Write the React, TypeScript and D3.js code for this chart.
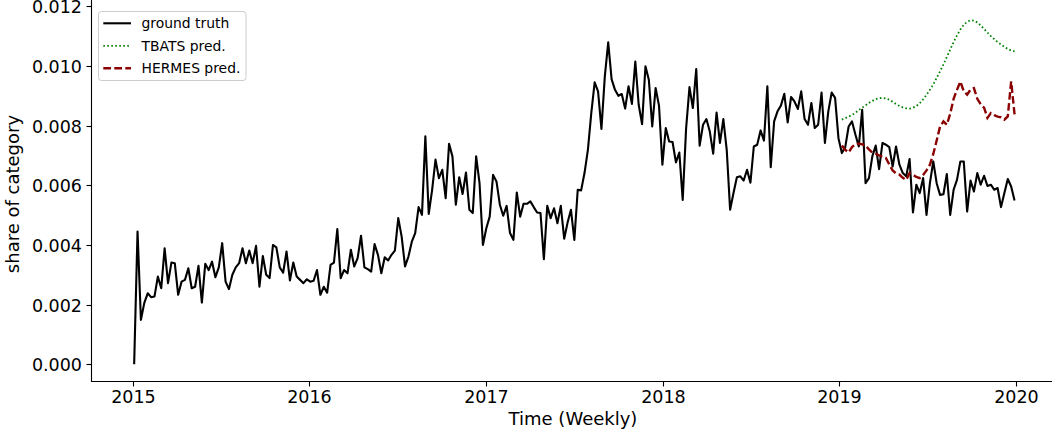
import { useEffect, useRef } from 'react';
import * as d3 from 'd3';

// weekly share of category, first week starting 2015-01-04
const groundTruth = [
  0.0, 0.00445, 0.00149, 0.00206, 0.00238, 0.00225, 0.00227, 0.00294, 0.00255, 0.00389,
  0.00272, 0.00341, 0.00339, 0.00233, 0.00277, 0.00283, 0.00322, 0.00255, 0.0026, 0.0033,
  0.00207, 0.00337, 0.00316, 0.00344, 0.00292, 0.00325, 0.00406, 0.00277, 0.00252, 0.003,
  0.00325, 0.00339, 0.00389, 0.00339, 0.00381, 0.00339, 0.00397, 0.0026, 0.00363, 0.003,
  0.00289, 0.004, 0.00392, 0.00325, 0.00307, 0.00378, 0.00281, 0.00341, 0.00294, 0.00283,
  0.00272, 0.00285, 0.00277, 0.0028, 0.00316, 0.00233, 0.0026, 0.0024, 0.00333, 0.00341,
  0.00453, 0.00289, 0.00316, 0.00305, 0.00384, 0.00328, 0.00356, 0.00431, 0.00325, 0.00319,
  0.00311, 0.00403, 0.00367, 0.00305, 0.00359, 0.00348, 0.00367, 0.00381, 0.0049, 0.00428,
  0.00328, 0.00361, 0.00411, 0.0044, 0.00527, 0.00501, 0.00764, 0.00504, 0.00585, 0.00686,
  0.00624, 0.00652, 0.00557, 0.00739, 0.00697, 0.00535, 0.00627, 0.00571, 0.00643, 0.00518,
  0.00507, 0.00697, 0.00607, 0.004, 0.00456, 0.00495, 0.00635, 0.00613, 0.00535, 0.00498,
  0.00531, 0.0044, 0.00417, 0.00576, 0.00495, 0.00538, 0.00538, 0.00546, 0.00527, 0.00509,
  0.00507, 0.00352, 0.00531, 0.0049, 0.00523, 0.00473, 0.00531, 0.00421, 0.00475, 0.00518,
  0.00417, 0.00585, 0.00583, 0.00641, 0.00719, 0.00842, 0.00945, 0.00915, 0.00789, 0.00965,
  0.01079, 0.00956, 0.0092, 0.009, 0.00906, 0.00857, 0.00932, 0.00873, 0.01015, 0.0087,
  0.00805, 0.00999, 0.00954, 0.00797, 0.00926, 0.00867, 0.00669, 0.00792, 0.00747, 0.00745,
  0.00677, 0.0071, 0.00551, 0.0079, 0.00929, 0.00859, 0.0099, 0.00733, 0.00803, 0.00822,
  0.0078, 0.00706, 0.00844, 0.00742, 0.00822, 0.00719, 0.00518, 0.00574, 0.00627, 0.0063,
  0.00616, 0.00652, 0.00609, 0.0073, 0.00736, 0.00784, 0.0075, 0.00932, 0.00661, 0.00814,
  0.00848, 0.00867, 0.00907, 0.00811, 0.00896, 0.00881, 0.00856, 0.00915, 0.00822, 0.00803,
  0.00876, 0.00792, 0.00803, 0.00911, 0.00742, 0.00848, 0.00911, 0.00893, 0.00758, 0.00708,
  0.00728, 0.00797, 0.00814, 0.0077, 0.0073, 0.00853, 0.00607, 0.00624, 0.00697, 0.00733,
  0.00654, 0.00742, 0.00736, 0.00728, 0.00663, 0.0073, 0.00669, 0.00641, 0.0063, 0.00688,
  0.00509, 0.00602, 0.00574, 0.00624, 0.00501, 0.00607, 0.0068, 0.00607, 0.00568, 0.0057,
  0.00638, 0.00501, 0.00585, 0.00618, 0.0068, 0.0068, 0.00512, 0.00616, 0.00579, 0.00641,
  0.00602, 0.00632, 0.00598, 0.00602, 0.00585, 0.00591, 0.00527, 0.00574, 0.00621, 0.00596,
  0.00549,
];

// forecasts cover the last 52 weeks (2019)
const tbatsPred = [
  0.0082, 0.00825, 0.0083, 0.00836, 0.00843, 0.00852, 0.0086, 0.00868, 0.00876, 0.00883,
  0.00889, 0.00892, 0.00893, 0.00891, 0.00887, 0.0088, 0.00872, 0.00866, 0.00861, 0.00858,
  0.00857, 0.0086, 0.00866, 0.00875, 0.00888, 0.00903, 0.0092, 0.00938, 0.0096, 0.00982,
  0.01005, 0.0103, 0.01055, 0.0108, 0.01102, 0.01122, 0.01138, 0.01148, 0.01153, 0.01152,
  0.01146, 0.01136, 0.01124, 0.01112, 0.011, 0.0109, 0.0108, 0.01072, 0.01064, 0.01057,
  0.01052, 0.01049,
];

const hermesPred = [
  0.00733, 0.00719, 0.0071, 0.00728, 0.00738, 0.0074, 0.00737, 0.00734, 0.0072, 0.0071,
  0.00706, 0.007, 0.00696, 0.00692, 0.0067, 0.0065, 0.0064, 0.00636, 0.00625, 0.00618,
  0.00641, 0.00635, 0.00628, 0.00624, 0.00635, 0.0065, 0.00669, 0.00705, 0.0075, 0.00797,
  0.00814, 0.00803, 0.0084, 0.0089, 0.0092, 0.00948, 0.00915, 0.00904, 0.00921, 0.00926,
  0.0089, 0.00872, 0.0086, 0.00826, 0.00842, 0.00835, 0.0083, 0.00828, 0.0082, 0.00831,
  0.00948, 0.00838,
];

const startDate = Date.UTC(2015, 0, 4);
const yearTicks = [2015, 2016, 2017, 2018, 2019, 2020];
const valueTicks = [0, 0.002, 0.004, 0.006, 0.008, 0.01, 0.012];

const legendItems = [
  { label: 'ground truth', color: '#000000', width: 2.1, dash: null },
  { label: 'TBATS pred.', color: 'green', width: 1.8, dash: '1.6,2.4' },
  { label: 'HERMES pred.', color: 'darkred', width: 2.4, dash: '7.7,3.3' },
];

export default function App() {
  const svgRef = useRef<SVGSVGElement>(null);

  useEffect(() => {
    if (!svgRef.current) return;
    const svg = d3.select(svgRef.current);
    svg.selectAll('*').remove();

    const font = '"DejaVu Sans", sans-serif';
    const left = 91.5;
    const bottom = 381.5;

    const x = d3
      .scaleUtc()
      .domain([new Date(Date.UTC(2015, 0, 1)), new Date(Date.UTC(2020, 0, 1))])
      .range([132.7, 1016]);
    const y = d3.scaleLinear().domain([0, 0.012]).range([364.3, 6.3]);

    const weekDate = (i: number) => new Date(startDate + i * 7 * 86400000);
    const gt = groundTruth.map((v, i) => ({ d: weekDate(i), v }));
    const offset = groundTruth.length - tbatsPred.length;
    const tb = tbatsPred.map((v, i) => ({ d: weekDate(offset + i), v }));
    const he = hermesPred.map((v, i) => ({ d: weekDate(offset + i), v }));

    const line = d3
      .line<{ d: Date; v: number }>()
      .x((p) => x(p.d))
      .y((p) => y(p.v));

    svg.append('path')
      .datum(gt)
      .attr('fill', 'none')
      .attr('stroke', '#000')
      .attr('stroke-width', 2.1)
      .attr('stroke-linejoin', 'round')
      .attr('d', line);

    svg.append('path')
      .datum(tb)
      .attr('fill', 'none')
      .attr('stroke', 'green')
      .attr('stroke-width', 1.8)
      .attr('stroke-dasharray', '1.6,2.4')
      .attr('d', line);

    svg.append('path')
      .datum(he)
      .attr('fill', 'none')
      .attr('stroke', 'darkred')
      .attr('stroke-width', 2.4)
      .attr('stroke-dasharray', '7.7,3.3')
      .attr('d', line);

    // spines
    svg.append('line')
      .attr('x1', left).attr('x2', left)
      .attr('y1', 0).attr('y2', bottom + 0.5)
      .attr('stroke', '#000').attr('stroke-width', 1.1);
    svg.append('line')
      .attr('x1', left - 0.5).attr('x2', 1052)
      .attr('y1', bottom).attr('y2', bottom)
      .attr('stroke', '#000').attr('stroke-width', 1.1);

    // x ticks
    const xt = svg.append('g');
    yearTicks.forEach((yr) => {
      const px = Math.round(x(new Date(Date.UTC(yr, 0, 1)))) + 0.5;
      xt.append('line')
        .attr('x1', px).attr('x2', px)
        .attr('y1', bottom).attr('y2', bottom + 5)
        .attr('stroke', '#000').attr('stroke-width', 1.1);
      xt.append('text')
        .attr('x', px)
        .attr('y', 403)
        .attr('text-anchor', 'middle')
        .attr('font-family', font)
        .attr('font-size', 17.5)
        .attr('fill', '#000')
        .text(String(yr));
    });

    // y ticks
    const yt = svg.append('g');
    valueTicks.forEach((v) => {
      const py = Math.round(y(v)) + 0.5;
      yt.append('line')
        .attr('x1', left - 5).attr('x2', left)
        .attr('y1', py).attr('y2', py)
        .attr('stroke', '#000').attr('stroke-width', 1.1);
      yt.append('text')
        .attr('x', 82)
        .attr('y', py + 6.3)
        .attr('text-anchor', 'end')
        .attr('font-family', font)
        .attr('font-size', 17.5)
        .attr('fill', '#000')
        .text(d3.format('.3f')(v));
    });

    svg.append('text')
      .attr('x', 573)
      .attr('y', 425)
      .attr('text-anchor', 'middle')
      .attr('font-family', font)
      .attr('font-size', 18)
      .attr('fill', '#000')
      .text('Time (Weekly)');

    svg.append('text')
      .attr('transform', 'translate(19,194) rotate(-90)')
      .attr('text-anchor', 'middle')
      .attr('font-family', font)
      .attr('font-size', 18)
      .attr('fill', '#000')
      .text('share of category');

    // legend
    const lg = svg.append('g');
    lg.append('rect')
      .attr('x', 98.5).attr('y', 11.5)
      .attr('width', 147.5).attr('height', 69)
      .attr('rx', 3)
      .attr('fill', '#fff').attr('fill-opacity', 0.8)
      .attr('stroke', '#cccccc').attr('stroke-width', 1);
    legendItems.forEach((item, i) => {
      const cy = 23.3 + i * 22.5;
      lg.append('line')
        .attr('x1', 103.3).attr('x2', 131)
        .attr('y1', cy).attr('y2', cy)
        .attr('stroke', item.color)
        .attr('stroke-width', item.width)
        .attr('stroke-dasharray', item.dash);
      lg.append('text')
        .attr('x', 141.5)
        .attr('y', cy + 5)
        .attr('font-family', font)
        .attr('font-size', 13.9)
        .attr('fill', '#000')
        .text(item.label);
    });
  }, []);

  return (
    <svg
      ref={svgRef}
      width={1052}
      height={436}
      style={{ position: 'absolute', left: 0, top: 0, background: '#fff' }}
    />
  );
}
